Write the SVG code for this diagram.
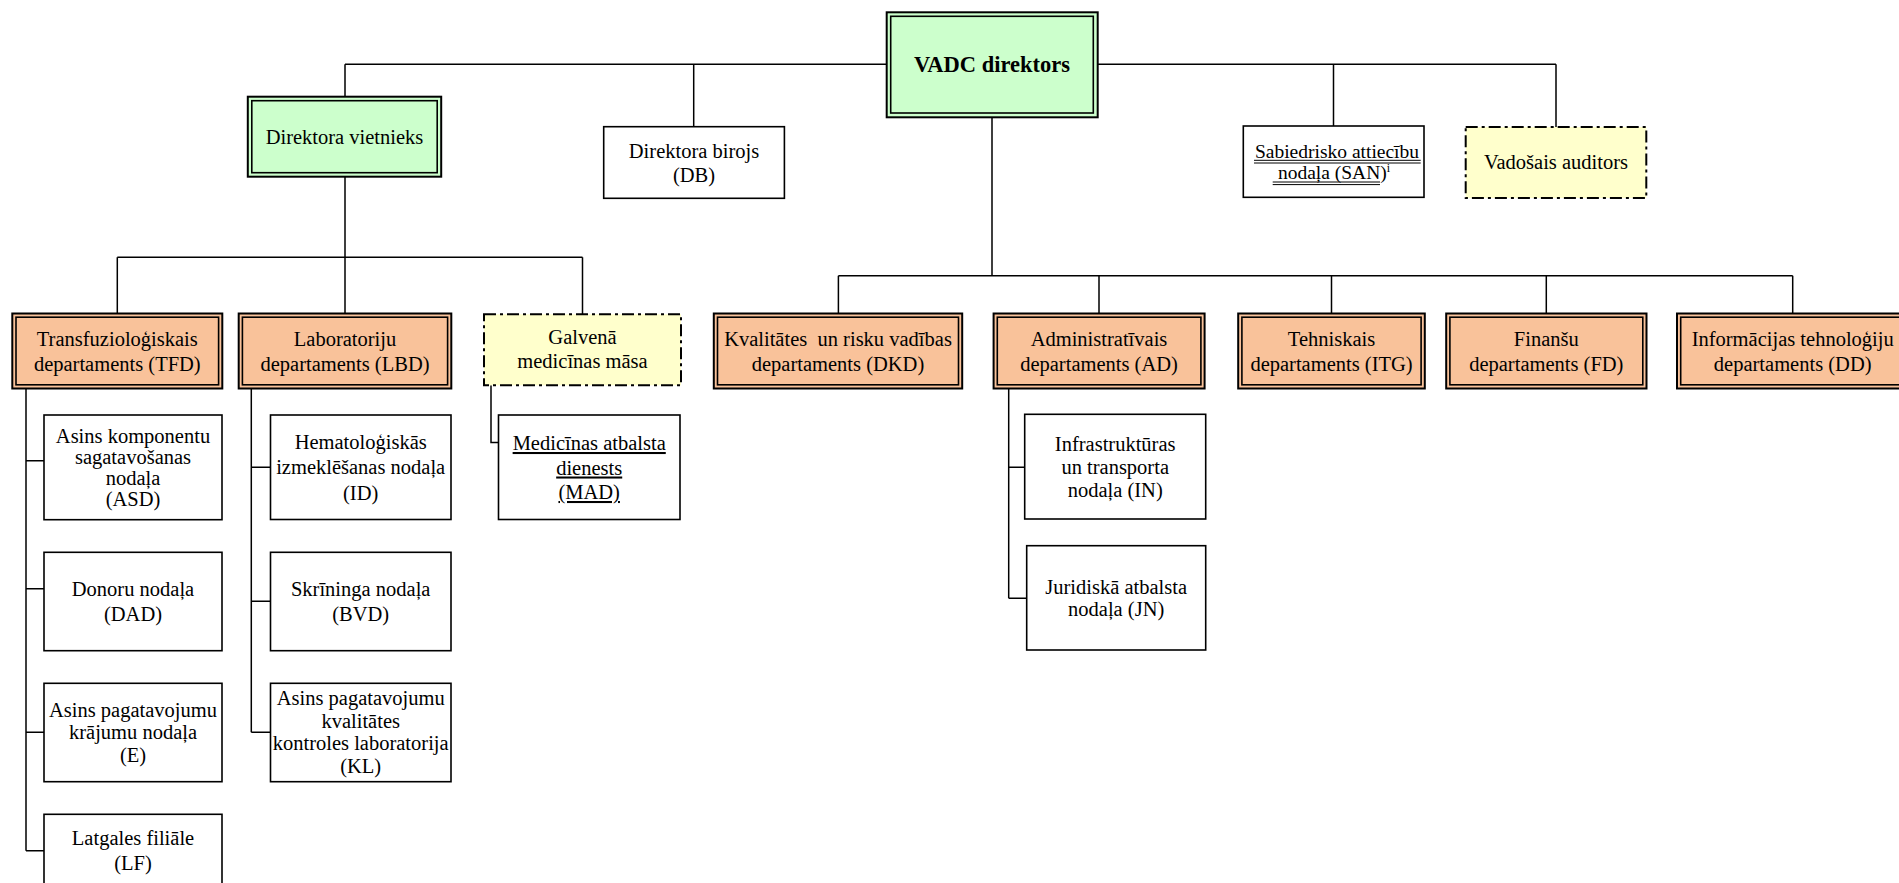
<svg xmlns="http://www.w3.org/2000/svg" width="1899" height="883" viewBox="0 0 1899 883">
<style>
.ln{stroke:#000;stroke-width:1.5;fill:none}
.box{fill:#fff;stroke:#000;stroke-width:1.6}
.dept{fill:#F9C29A;stroke:#000;stroke-width:2}
.grn{fill:#CCFFCC;stroke:#000;stroke-width:2}
.inner{fill:none;stroke:#000;stroke-width:1.6}
.dash{fill:#FFFFCC;stroke:#000;stroke-width:2;stroke-dasharray:12 4 3 4}
text{font-family:"Liberation Serif","Times New Roman",serif;font-size:20.5px;fill:#000;text-anchor:middle}
.ul{stroke:#000;stroke-width:1}
</style>
<rect width="1899" height="883" fill="#fff"/>
<g id="connectors">
<path class="ln" d="M345 64.3H1556M345 64.3V97M693.7 64.3V126.7M1333.5 64.3V126M1556 64.3V127"/>
<path class="ln" d="M992 117.3V275.7M838.4 275.7H1792.7M838.4 275.7V313.5M1099 275.7V313.5M1331.5 275.7V313.5M1546.3 275.7V313.5M1792.7 275.7V313.5"/>
<path class="ln" d="M345 176.7V257.3M117.3 257.3H582.5M117.3 257.3V313.5M345 257.3V313.5M582.5 257.3V314.3"/>
<path class="ln" d="M26 388.5V850.7M26 460.7H44M26 588.7H44M26 732.3H44M26 850.7H44"/>
<path class="ln" d="M251.3 388.5V732.3M251.3 467.3H270.5M251.3 601.3H270.5M251.3 732.3H270.5"/>
<path class="ln" d="M491 385.3V442.5H498.5"/>
<path class="ln" d="M1008.7 388.5V598.3M1008.7 467.3H1024.7M1008.7 598.3H1026.7"/>
</g>
<g id="vadc">
<rect class="grn" x="886.7" y="12.3" width="211" height="105"/>
<rect class="inner" x="890.7" y="16.3" width="202.6" height="96.7"/>
<text x="992" y="71.7" style="font-weight:bold;font-size:22.5px">VADC direktors</text>
</g>
<g id="vietnieks">
<rect class="grn" x="247.8" y="96.7" width="193.4" height="80"/>
<rect class="inner" x="251.8" y="100.7" width="185.4" height="72"/>
<text x="344.5" y="143.5">Direktora vietnieks</text>
</g>
<g id="db">
<rect class="box" x="603.7" y="126.7" width="180.7" height="71.6"/>
<text x="694" y="157.5">Direktora birojs</text>
<text x="694" y="181.5">(DB)</text>
</g>
<g id="san">
<rect class="box" x="1243.3" y="126" width="180.7" height="71.3"/>
<text x="1337" y="157.7" style="font-size:19.5px">Sabiedrisko attiecību</text>
<text x="1334" y="179.3" style="font-size:19.5px">nodaļa (SAN)<tspan dy="-7" style="font-size:12px">i</tspan></text>
<path class="ul" d="M1254 160.3H1420.7M1254 163H1420.7M1272.7 182H1380M1272.7 184.6H1380"/>
</g>
<g id="auditors">
<rect class="dash" x="1465.7" y="127" width="180.6" height="71"/>
<text x="1556" y="169">Vadošais auditors</text>
</g>
<g id="tfd">
<rect class="dept" x="12.3" y="313.5" width="210" height="75"/>
<rect class="inner" x="16" y="317.2" width="202.6" height="67.6"/>
<text x="117.3" y="346">Transfuzioloģiskais</text>
<text x="117.3" y="371">departaments (TFD)</text>
</g>
<g id="lbd">
<rect class="dept" x="238.7" y="313.5" width="212.6" height="75"/>
<rect class="inner" x="242.4" y="317.2" width="205.2" height="67.6"/>
<text x="345" y="346">Laboratoriju</text>
<text x="345" y="371">departaments (LBD)</text>
</g>
<g id="galvena">
<rect class="dash" x="484" y="314.3" width="197" height="71"/>
<text x="582.5" y="344">Galvenā</text>
<text x="582.5" y="368">medicīnas māsa</text>
</g>
<g id="dkd">
<rect class="dept" x="713.8" y="313.5" width="248.4" height="75"/>
<rect class="inner" x="717.5" y="317.2" width="241" height="67.6"/>
<text x="838" y="346" style="white-space:pre">Kvalitātes  un risku vadības</text>
<text x="838" y="371">departaments (DKD)</text>
</g>
<g id="ad">
<rect class="dept" x="993.6" y="313.5" width="211" height="75"/>
<rect class="inner" x="997.3" y="317.2" width="203.6" height="67.6"/>
<text x="1099" y="346">Administratīvais</text>
<text x="1099" y="371">departaments (AD)</text>
</g>
<g id="itg">
<rect class="dept" x="1238.2" y="313.5" width="186.6" height="75"/>
<rect class="inner" x="1241.9" y="317.2" width="179.2" height="67.6"/>
<text x="1331.5" y="346">Tehniskais</text>
<text x="1331.5" y="371">departaments (ITG)</text>
</g>
<g id="fd">
<rect class="dept" x="1446.2" y="313.5" width="200.3" height="75"/>
<rect class="inner" x="1449.9" y="317.2" width="192.9" height="67.6"/>
<text x="1546.3" y="346">Finanšu</text>
<text x="1546.3" y="371">departaments (FD)</text>
</g>
<g id="dd">
<rect class="dept" x="1677" y="313.5" width="235" height="75"/>
<rect class="inner" x="1680.7" y="317.2" width="227.6" height="67.6"/>
<text x="1792.7" y="346">Informācijas tehnoloģiju</text>
<text x="1792.7" y="371">departaments (DD)</text>
</g>
<g id="asd">
<rect class="box" x="44" y="415" width="178" height="104.7"/>
<text x="133" y="443">Asins komponentu</text>
<text x="133" y="464">sagatavošanas</text>
<text x="133" y="485">nodaļa</text>
<text x="133" y="505.5">(ASD)</text>
</g>
<g id="dad">
<rect class="box" x="44" y="552.3" width="178" height="98.4"/>
<text x="133" y="595.5">Donoru nodaļa</text>
<text x="133" y="620.5">(DAD)</text>
</g>
<g id="e">
<rect class="box" x="44" y="683.3" width="178" height="98.4"/>
<text x="133" y="716.5">Asins pagatavojumu</text>
<text x="133" y="739.3">krājumu nodaļa</text>
<text x="133" y="762">(E)</text>
</g>
<g id="lf">
<rect class="box" x="44" y="814.3" width="178" height="100"/>
<text x="133" y="845">Latgales filiāle</text>
<text x="133" y="870">(LF)</text>
</g>
<g id="id">
<rect class="box" x="270.5" y="415" width="180.5" height="104.5"/>
<text x="360.7" y="448.7">Hematoloģiskās</text>
<text x="360.7" y="474.2">izmeklēšanas nodaļa</text>
<text x="360.7" y="499.7">(ID)</text>
</g>
<g id="bvd">
<rect class="box" x="270.5" y="552.3" width="180.5" height="98.4"/>
<text x="360.7" y="595.5">Skrīninga nodaļa</text>
<text x="360.7" y="620.5">(BVD)</text>
</g>
<g id="kl">
<rect class="box" x="270.5" y="683.3" width="180.5" height="98.4"/>
<text x="360.7" y="705">Asins pagatavojumu</text>
<text x="360.7" y="727.5">kvalitātes</text>
<text x="360.7" y="750">kontroles laboratorija</text>
<text x="360.7" y="772.5">(KL)</text>
</g>
<g id="mad">
<rect class="box" x="498.5" y="415" width="181.5" height="104.5"/>
<text x="589.2" y="450" text-decoration="underline">Medicīnas atbalsta</text>
<text x="589.2" y="474.5" text-decoration="underline">dienests</text>
<text x="589.2" y="499" text-decoration="underline">(MAD)</text>
</g>
<g id="in">
<rect class="box" x="1024.7" y="414.3" width="181" height="104.7"/>
<text x="1115.2" y="451">Infrastruktūras</text>
<text x="1115.2" y="474">un transporta</text>
<text x="1115.2" y="497">nodaļa (IN)</text>
</g>
<g id="jn">
<rect class="box" x="1026.7" y="545.7" width="179" height="104.3"/>
<text x="1116.2" y="593.5">Juridiskā atbalsta</text>
<text x="1116.2" y="616">nodaļa (JN)</text>
</g>
</svg>
